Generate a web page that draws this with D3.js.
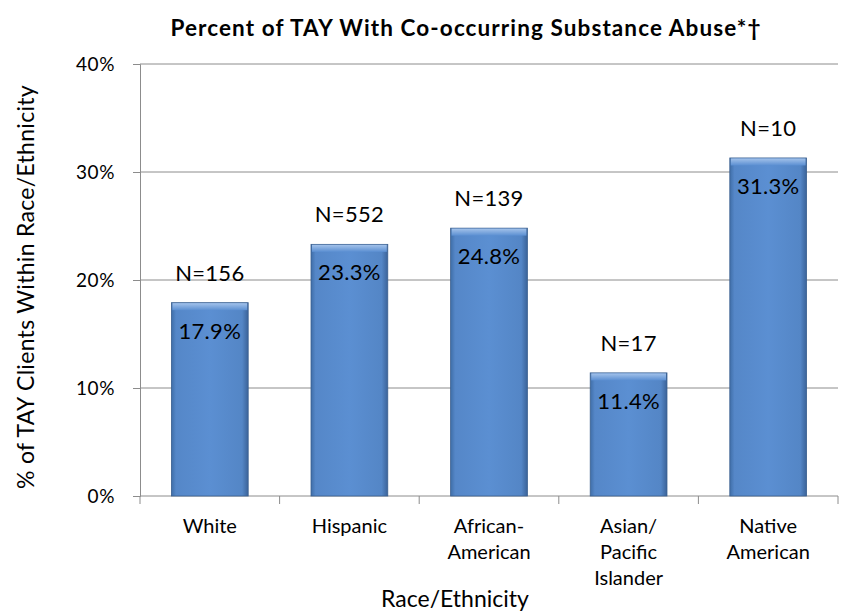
<!DOCTYPE html>
<html>
<head>
<meta charset="utf-8">
<title>Percent of TAY With Co-occurring Substance Abuse</title>
<script src="https://d3js.org/d3.v7.min.js"></script>
<style>
  body { margin: 0; background: #fff; }
  text { font-family: Lato, "Open Sans", sans-serif; fill: #000; }
</style>
</head>
<body>
<div id="chart"></div>
<script>
// data
var categories = ["White", "Hispanic", "African-\nAmerican", "Asian/\nPacific\nIslander", "Native\nAmerican"];
var percents = [17.9, 23.3, 24.8, 11.4, 31.3];
var counts = [156, 552, 139, 17, 10];
var yTicks = [0, 10, 20, 30, 40];

var W = 841, H = 614;
var margin = {top: 64, right: 3, bottom: 118, left: 140};
var width = W - margin.left - margin.right,
    height = H - margin.top - margin.bottom;

var svg = d3.select("#chart").append("svg")
    .attr("width", W).attr("height", H);

// bevelled bar look
var defs = svg.append("defs");
var gh = defs.append("linearGradient").attr("id", "barH")
    .attr("x1", 0).attr("x2", 1).attr("y1", 0).attr("y2", 0);
gh.append("stop").attr("offset", "0%").attr("stop-color", "#3f6ea8");
gh.append("stop").attr("offset", "6%").attr("stop-color", "#5587c8");
gh.append("stop").attr("offset", "50%").attr("stop-color", "#5b8fd2");
gh.append("stop").attr("offset", "92%").attr("stop-color", "#5486c6");
gh.append("stop").attr("offset", "100%").attr("stop-color", "#3b6399");
var gt = defs.append("linearGradient").attr("id", "barTop")
    .attr("x1", 0).attr("x2", 0).attr("y1", 0).attr("y2", 1);
gt.append("stop").attr("offset", "0%").attr("stop-color", "#a3c2ea");
gt.append("stop").attr("offset", "100%").attr("stop-color", "#5b8fd2");

var g = svg.append("g")
    .attr("transform", "translate(" + margin.left + "," + margin.top + ")");

var x = d3.scaleBand().domain(categories).range([0, width]).paddingInner(0.45).paddingOuter(0.225);
var y = d3.scaleLinear().domain([0, 40]).range([height, 0]);

// gridlines
g.selectAll(".grid").data(yTicks.slice(1)).enter().append("line")
    .attr("x1", 0).attr("x2", width)
    .attr("y1", function(d) { return y(d); }).attr("y2", function(d) { return y(d); })
    .attr("stroke", "#8c8c8c").attr("stroke-width", 1);

// y axis
var yAxis = g.append("g")
    .call(d3.axisLeft(y).tickValues(yTicks).tickSize(7).tickPadding(18)
        .tickFormat(function(d) { return d + "%"; }));
yAxis.select(".domain").attr("stroke", "#8c8c8c");
yAxis.selectAll(".tick line").attr("stroke", "#8c8c8c");
yAxis.selectAll(".tick text").style("font-size", "19px")
    .style("letter-spacing", "0.6px")
    .style("font-family", "Lato, sans-serif").attr("fill", "#000");

// x axis line with boundary ticks
g.append("line").attr("x1", 0).attr("x2", width).attr("y1", height).attr("y2", height)
    .attr("stroke", "#8c8c8c");
var step = x.step();
g.selectAll(".xtick").data(d3.range(categories.length + 1)).enter().append("line")
    .attr("x1", function(i) { return i * step; }).attr("x2", function(i) { return i * step; })
    .attr("y1", height).attr("y2", height + 8)
    .attr("stroke", "#8c8c8c");

// bars
var bars = g.selectAll(".bar").data(categories).enter().append("g");
bars.append("rect")
    .attr("x", function(d) { return x(d); })
    .attr("y", function(d, i) { return y(percents[i]); })
    .attr("width", x.bandwidth())
    .attr("height", function(d, i) { return height - y(percents[i]); })
    .attr("fill", "url(#barH)")
    .attr("stroke", "#3a5f8f").attr("stroke-width", 0.8);
bars.append("rect")
    .attr("x", function(d) { return x(d) + 1; })
    .attr("y", function(d, i) { return y(percents[i]) + 0.5; })
    .attr("width", x.bandwidth() - 2)
    .attr("height", 7)
    .attr("fill", "url(#barTop)");

// N labels above bars
bars.append("text")
    .attr("x", function(d) { return x(d) + x.bandwidth() / 2; })
    .attr("y", function(d, i) { return y(percents[i]) - 22; })
    .attr("text-anchor", "middle")
    .style("font-size", "22px")
    .style("letter-spacing", "0.3px")
    .text(function(d, i) { return "N=" + counts[i]; });

// value labels inside bars
bars.append("text")
    .attr("x", function(d) { return x(d) + x.bandwidth() / 2; })
    .attr("y", function(d, i) { return y(percents[i]) + 36; })
    .attr("text-anchor", "middle")
    .style("font-size", "22px")
    .style("letter-spacing", "0.3px")
    .text(function(d, i) { return percents[i].toFixed(1) + "%"; });

// category labels
var cat = g.selectAll(".cat").data(categories).enter().append("text")
    .attr("x", function(d) { return x(d) + x.bandwidth() / 2; })
    .attr("y", height + 37)
    .attr("text-anchor", "middle")
    .style("font-size", "20px");
cat.each(function(d) {
    var t = d3.select(this);
    d.split("\n").forEach(function(line, i) {
        t.append("tspan").attr("x", t.attr("x")).attr("dy", i === 0 ? 0 : 26).text(line);
    });
});

// axis titles
svg.append("text")
    .attr("x", 455).attr("y", 607)
    .attr("text-anchor", "middle")
    .style("font-size", "23px")
    .text("Race/Ethnicity");

svg.append("text")
    .attr("transform", "translate(34," + 287 + ") rotate(-90)")
    .attr("text-anchor", "middle")
    .style("font-size", "23px")
    .style("letter-spacing", "0.3px")
    .text("% of TAY Clients Within Race/Ethnicity");

// title
svg.append("text")
    .attr("x", 466).attr("y", 36)
    .attr("text-anchor", "middle")
    .style("font-size", "22.5px")
    .style("font-weight", "bold")
    .style("letter-spacing", "1.1px")
    .text("Percent of TAY With Co-occurring Substance Abuse*\u2020");
</script>
</body>
</html>
